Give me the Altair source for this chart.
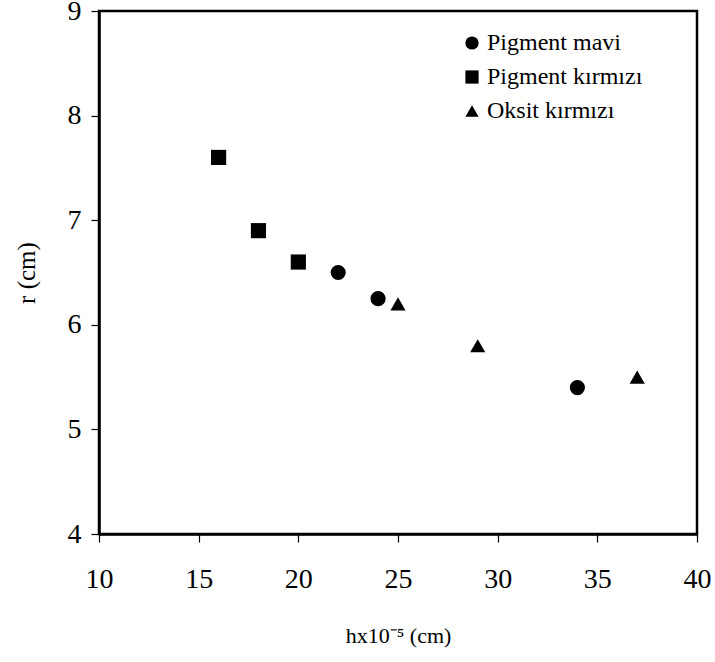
import altair as alt
import pandas as pd

# Three pigment series: thickness h (x10^-5 cm) versus r (cm)
series_names = ["Pigment mavi", "Pigment kırmızı", "Oksit kırmızı"]

mavi_h = [22, 24, 34]
mavi_r = [6.5, 6.25, 5.4]

kirmizi_h = [16, 18, 20]
kirmizi_r = [7.6, 6.9, 6.6]

oksit_h = [25, 29, 37]
oksit_r = [6.2, 5.8, 5.5]

x_ticks = [10, 15, 20, 25, 30, 35, 40]
y_ticks = [4, 5, 6, 7, 8, 9]

rows = []
for name, hs, rs in [
    (series_names[0], mavi_h, mavi_r),
    (series_names[1], kirmizi_h, kirmizi_r),
    (series_names[2], oksit_h, oksit_r),
]:
    for h, r in zip(hs, rs):
        rows.append({"h": h, "r": r, "seri": name})
df = pd.DataFrame(rows)

FONT = "Liberation Serif"

points = alt.Chart(df).mark_point(
    filled=True, opacity=1, size=230, color="black"
).encode(
    x=alt.X(
        "h:Q",
        scale=alt.Scale(domain=[10, 40], nice=False, zero=False),
        axis=alt.Axis(
            values=x_ticks,
            title="hx10⁻⁵ (cm)",
            titlePadding=32,
            titleFontSize=22,
            labelFlush=False,
        ),
    ),
    y=alt.Y(
        "r:Q",
        scale=alt.Scale(domain=[4, 9], nice=False, zero=False),
        axis=alt.Axis(
            values=y_ticks,
            title="r (cm)",
            titlePadding=28,
            titleFontSize=25,
            labelFlush=False,
        ),
    ),
    shape=alt.Shape(
        "seri:N",
        scale=alt.Scale(domain=series_names, range=["circle", "square", "triangle-up"]),
        legend=alt.Legend(
            title=None,
            orient="none",
            legendX=361,
            legendY=20,
            padding=0,
            symbolSize=175,
            symbolFillColor="black",
            symbolStrokeColor="black",
            symbolStrokeWidth=0,
            symbolOpacity=1,
            labelFont=FONT,
            labelFontSize=24,
            labelColor="black",
            labelOffset=3,
            rowPadding=10,
        ),
    ),
)

chart = points.properties(
    width=598,
    height=523,
    padding={"left": 99, "top": 11, "right": 18, "bottom": 128},
    autosize="none",
).configure_view(
    stroke="black",
    strokeWidth=2.5,
).configure_axis(
    domainColor="black",
    domainWidth=2.5,
    tickColor="black",
    tickWidth=1.2,
    tickSize=8,
    grid=False,
    labelFont=FONT,
    labelFontSize=28,
    labelColor="black",
    titleFont=FONT,
    titleFontWeight="normal",
    titleColor="black",
).configure_axisX(
    labelPadding=23,
).configure_axisY(
    labelPadding=10,
).configure_legend(
    labelFont=FONT,
)

chart.save("out.html", embed_options={"renderer": "svg", "actions": False})
